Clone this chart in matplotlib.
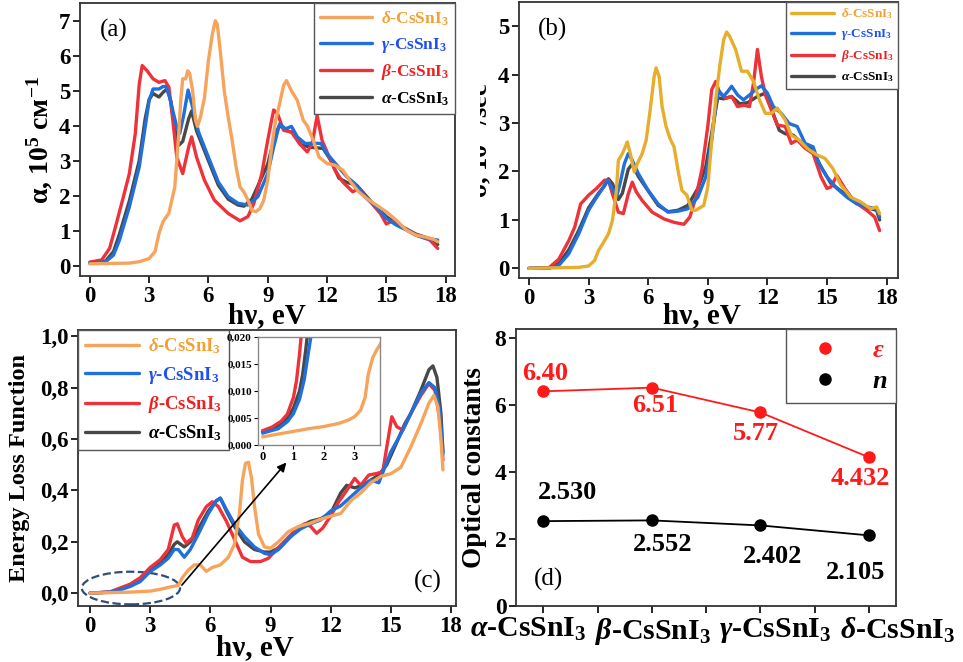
import numpy as np
import matplotlib
matplotlib.use('Agg')
import matplotlib.pyplot as plt
from matplotlib.patches import Ellipse
from matplotlib.transforms import Bbox, TransformedBbox, ScaledTranslation

plt.rcParams['font.family'] = ['Liberation Serif', 'DejaVu Serif']
plt.rcParams['font.weight'] = 'bold'
plt.rcParams['axes.labelweight'] = 'bold'
plt.rcParams['mathtext.fontset'] = 'custom'
plt.rcParams['mathtext.rm'] = 'Liberation Serif:bold'
plt.rcParams['mathtext.it'] = 'Liberation Serif:italic:bold'
plt.rcParams['mathtext.bf'] = 'Liberation Serif:bold'

# ---- (a) absorption coefficient, 10^5 cm^-1 ----
a_delta_x = [0, 2, 2.5, 3, 3.3, 3.5, 3.7, 4.0, 4.3, 4.5, 4.6, 4.7, 4.85, 4.95, 5.05, 5.2, 5.35, 5.45, 5.6, 5.8,
             6.0, 6.2, 6.35, 6.45, 6.6, 6.8, 7.0, 7.2, 7.4, 7.6, 7.8, 8.0, 8.2, 8.4, 8.6, 8.8, 9.0, 9.2, 9.4,
             9.6, 9.8, 9.95, 10.2, 10.5, 10.8, 11.0, 11.3, 11.6, 12.0, 12.4, 12.8, 13.2, 13.6, 14.0, 14.5,
             15.0, 15.5, 16.0, 16.5, 17.0, 17.4, 17.6]
a_delta_y = [0.05, 0.07, 0.11, 0.2, 0.4, 0.92, 1.25, 1.5, 2.25, 3.77, 4.72, 5.34, 5.34, 5.57, 5.5, 5.0, 4.15,
             3.98, 4.25, 4.8, 5.86, 6.62, 7.0, 6.9, 6.14, 5.0, 4.25, 3.58, 2.82, 2.25, 2.1, 1.87, 1.58, 1.54,
             1.63, 1.87, 2.44, 3.39, 4.15, 4.62, 5.15, 5.29, 5.0, 4.72, 4.15, 4.0, 3.58, 3.1, 2.92, 2.87, 2.73,
             2.39, 2.11, 1.92, 1.73, 1.54, 1.3, 1.02, 0.87, 0.81, 0.75, 0.68]
a_gamma_x = [0, 0.8, 1.2, 1.5, 2.0, 2.5, 2.8, 3.0, 3.2, 3.5, 3.7, 3.85, 4.0, 4.2, 4.4, 4.55, 4.75, 4.97, 5.2,
             5.5, 6.0, 6.5, 7.0, 7.5, 8.0, 8.5, 9.0, 9.3, 9.6, 9.9, 10.2, 10.5, 10.9, 11.3, 11.7, 12.0, 12.5,
             13.0, 13.4, 14.0, 14.5, 15.0, 15.5, 16.0, 16.5, 17.0, 17.6]
a_gamma_y = [0.07, 0.11, 0.3, 0.73, 1.68, 2.82, 3.96, 4.72, 5.05, 5.05, 5.12, 5.12, 4.91, 4.43, 3.96, 3.78,
             4.3, 5.02, 4.53, 3.82, 3.1, 2.39, 1.97, 1.78, 1.73, 1.97, 2.63, 3.39, 4.05, 3.91, 3.98, 3.68,
             3.49, 3.5, 3.49, 3.2, 2.87, 2.54, 2.35, 1.92, 1.68, 1.35, 1.16, 1.02, 0.87, 0.78, 0.73]
a_beta_x = [0, 0.6, 1.0, 1.3, 1.7, 2.0, 2.3, 2.5, 2.65, 2.9, 3.2, 3.5, 3.8, 4.0, 4.2, 4.4, 4.7, 5.0, 5.15,
            5.4, 5.8, 6.3, 7.0, 7.6, 8.0, 8.3, 8.7, 9.0, 9.3, 9.5, 9.8, 10.2, 10.6, 11.0, 11.25, 11.5, 11.75,
            12.0, 12.4, 12.8, 13.3, 13.6, 14.2, 14.7, 15.0, 15.4, 15.8, 16.5, 17.2, 17.6]
a_beta_y = [0.1, 0.16, 0.49, 1.11, 1.97, 2.63, 3.77, 5.19, 5.72, 5.57, 5.34, 5.24, 5.29, 5.1, 4.15, 3.1,
            2.63, 3.39, 3.68, 3.1, 2.44, 1.87, 1.49, 1.28, 1.4, 1.78, 2.63, 3.58, 4.45, 4.34, 3.87, 3.82,
            3.49, 3.25, 3.49, 4.29, 3.58, 3.25, 2.73, 2.39, 2.11, 2.2, 1.82, 1.49, 1.19, 1.3, 1.11, 0.87,
            0.73, 0.49]
a_alpha_x = [0, 0.8, 1.2, 1.5, 2.0, 2.5, 2.8, 3.0, 3.2, 3.5, 3.7, 3.9, 4.1, 4.3, 4.5, 4.7, 5.0, 5.15, 5.4,
             6.0, 6.5, 7.0, 7.5, 7.8, 8.2, 8.6, 9.0, 9.4, 9.6, 10.0, 10.3, 10.7, 11.2, 11.8, 12.2, 12.6,
             13.0, 13.5, 14.2, 15.0, 15.5, 16.5, 17.3, 17.6]
a_alpha_y = [0.07, 0.13, 0.4, 0.9, 1.85, 3.0, 4.2, 4.75, 4.92, 4.82, 4.95, 5.05, 4.7, 3.9, 3.44, 3.55, 4.2,
             4.42, 3.85, 3.0, 2.3, 1.9, 1.73, 1.7, 1.9, 2.4, 2.9, 3.8, 4.0, 3.85, 3.8, 3.45, 3.38, 3.35, 3.0,
             2.5, 2.38, 2.3, 1.85, 1.4, 1.2, 0.9, 0.75, 0.6]

# ---- (b) optical conductivity, 10^15 /sec ----
b_delta_x = [0, 2.5, 3.0, 3.3, 3.5, 3.7, 4.0, 4.2, 4.4, 4.5, 4.7, 4.85, 4.95, 5.1, 5.3, 5.45, 5.7, 5.9, 6.1,
             6.3, 6.4, 6.55, 6.7, 6.9, 7.1, 7.3, 7.5, 7.7, 7.95, 8.2, 8.4, 8.8, 9.0, 9.2, 9.4, 9.6, 9.8, 9.95,
             10.1, 10.4, 10.7, 11.0, 11.3, 11.6, 11.9, 12.2, 12.5, 12.9, 13.2, 13.6, 14.0, 14.5, 14.9, 15.3,
             15.7, 16.2, 16.7, 17.2, 17.5, 17.65]
b_delta_y = [0.0, 0.02, 0.05, 0.16, 0.37, 0.5, 0.71, 0.99, 1.61, 2.23, 2.37, 2.51, 2.61, 2.37, 1.99, 2.16,
             2.37, 2.65, 3.27, 3.96, 4.14, 3.96, 3.34, 2.93, 2.68, 2.51, 2.03, 1.61, 1.51, 1.2, 1.2, 1.3,
             1.68, 2.65, 3.48, 4.17, 4.72, 4.88, 4.79, 4.52, 4.07, 4.07, 3.86, 3.48, 3.2, 3.2, 3.31, 3.06,
             2.75, 2.65, 2.48, 2.34, 2.27, 2.06, 1.72, 1.47, 1.37, 1.23, 1.27, 1.13]
b_gamma_x = [0, 1.0, 1.5, 2.0, 2.5, 3.0, 3.3, 3.7, 3.95, 4.15, 4.4, 4.6, 4.8, 5.0, 5.2, 5.5, 6.0, 6.5, 7.0,
             7.5, 8.0, 8.5, 8.9, 9.2, 9.4, 9.55, 9.8, 10.0, 10.2, 10.5, 10.8, 11.1, 11.4, 11.7, 12.0, 12.3,
             12.7, 13.1, 13.5, 13.9, 14.3, 14.6, 15.0, 15.5, 16.0, 16.5, 17.0, 17.5, 17.65]
b_gamma_y = [0.0, 0.0, 0.06, 0.3, 0.71, 1.2, 1.4, 1.65, 1.82, 1.68, 1.47, 1.78, 2.16, 2.37, 2.23, 1.96, 1.61,
             1.33, 1.16, 1.18, 1.23, 1.47, 1.89, 2.65, 3.34, 3.67, 3.55, 3.65, 3.76, 3.58, 3.48, 3.58, 3.69,
             3.77, 3.62, 3.34, 3.2, 2.99, 2.93, 2.58, 2.51, 2.16, 1.89, 1.65, 1.47, 1.33, 1.27, 1.23, 1.06]
b_beta_x = [0, 1.0, 1.5, 2.0, 2.3, 2.6, 3.0, 3.4, 3.8, 4.0, 4.2, 4.5, 4.75, 5.0, 5.2, 5.4, 5.7, 6.2, 6.8,
            7.3, 7.8, 8.1, 8.4, 8.7, 9.0, 9.2, 9.4, 9.6, 9.9, 10.2, 10.5, 10.8, 11.1, 11.3, 11.5, 11.7, 11.9,
            12.2, 12.5, 12.9, 13.2, 13.5, 13.9, 14.3, 14.7, 15.0, 15.2, 15.5, 15.9, 16.4, 17.0, 17.4, 17.65]
b_beta_y = [0.0, 0.01, 0.19, 0.57, 0.85, 1.33, 1.51, 1.65, 1.82, 1.82, 1.54, 1.16, 1.13, 1.54, 1.78, 1.58,
            1.4, 1.16, 1.02, 0.95, 0.91, 1.06, 1.47, 2.03, 2.93, 3.69, 3.86, 3.62, 3.51, 3.55, 3.34, 3.37,
            3.34, 3.82, 4.52, 3.96, 3.58, 3.27, 2.96, 2.93, 2.58, 2.65, 2.48, 2.37, 1.89, 1.65, 1.68, 1.92,
            1.65, 1.37, 1.2, 1.06, 0.78]
b_alpha_x = [0, 1.0, 1.5, 2.0, 2.5, 3.0, 3.5, 3.8, 4.0, 4.2, 4.5, 4.7, 5.0, 5.2, 5.5, 6.0, 6.5, 7.0, 7.5,
             8.0, 8.5, 8.9, 9.2, 9.5, 9.8, 10.2, 10.6, 11.0, 11.5, 11.9, 12.2, 12.6, 12.9, 13.3, 13.7, 14.2,
             14.7, 15.2, 15.7, 16.3, 17.0, 17.5, 17.65]
b_alpha_y = [0.0, 0.01, 0.1, 0.38, 0.78, 1.25, 1.55, 1.7, 1.85, 1.75, 1.42, 1.55, 2.05, 2.15, 1.9, 1.6, 1.3,
             1.17, 1.2, 1.3, 1.65, 2.1, 2.8, 3.52, 3.5, 3.55, 3.4, 3.42, 3.55, 3.62, 3.3, 2.85, 2.78, 2.75,
             2.6, 2.5, 2.1, 1.75, 1.6, 1.42, 1.25, 1.2, 1.0]

# ---- (c) energy loss function ----
c_delta_x = [0, 1.0, 2.0, 3.0, 3.5, 4.0, 4.4, 4.6, 4.9, 5.2, 5.5, 5.8, 6.1, 6.5, 6.9, 7.2, 7.45, 7.6, 7.75,
             7.9, 8.05, 8.2, 8.4, 8.7, 9.0, 9.4, 9.9, 10.4, 10.9, 11.4, 12.0, 12.5, 13.0, 13.5, 14.0, 14.5,
             15.0, 15.5, 16.0, 16.5, 16.9, 17.15, 17.35, 17.5, 17.6]
c_delta_y = [0.0, 0.002, 0.004, 0.008, 0.015, 0.024, 0.03, 0.06, 0.09, 0.11, 0.11, 0.085, 0.1, 0.11, 0.14,
             0.19, 0.31, 0.44, 0.505, 0.51, 0.45, 0.34, 0.23, 0.18, 0.175, 0.2, 0.24, 0.26, 0.27, 0.285, 0.3,
             0.31, 0.36, 0.39, 0.43, 0.455, 0.465, 0.49, 0.57, 0.66, 0.74, 0.77, 0.725, 0.6, 0.48]
c_gamma_x = [0, 1.0, 1.5, 2.0, 2.5, 3.0, 3.5, 3.9, 4.2, 4.4, 4.7, 5.0, 5.4, 5.9, 6.3, 6.5, 6.8, 7.2, 7.7, 8.2,
             8.7, 9.0, 9.4, 10.0, 10.5, 11.0, 11.5, 12.0, 12.5, 13.0, 13.5, 14.0, 14.4, 14.7, 15.0, 15.5, 16.0,
             16.5, 16.9, 17.2, 17.45, 17.6]
c_gamma_y = [0.0, 0.004, 0.013, 0.026, 0.045, 0.084, 0.11, 0.136, 0.17, 0.17, 0.14, 0.17, 0.23, 0.31, 0.36,
             0.37, 0.325, 0.27, 0.22, 0.18, 0.155, 0.15, 0.17, 0.22, 0.25, 0.27, 0.285, 0.32, 0.34, 0.375,
             0.41, 0.44, 0.43, 0.49, 0.55, 0.62, 0.7, 0.78, 0.82, 0.8, 0.71, 0.54]
c_beta_x = [0, 1.0, 1.5, 2.0, 2.5, 3.0, 3.5, 3.9, 4.2, 4.35, 4.6, 4.8, 5.1, 5.4, 5.8, 6.1, 6.4, 6.8, 7.2, 7.6,
            8.0, 8.5, 8.9, 9.3, 9.8, 10.3, 10.7, 11.0, 11.3, 11.6, 12.0, 12.4, 12.8, 13.2, 13.5, 13.9, 14.3,
            14.6, 14.8, 15.05, 15.3, 15.6, 16.0, 16.5, 16.9, 17.2, 17.45, 17.6]
c_beta_y = [0.0, 0.005, 0.02, 0.035, 0.06, 0.1, 0.13, 0.17, 0.265, 0.27, 0.22, 0.195, 0.215, 0.285, 0.337,
            0.356, 0.337, 0.28, 0.21, 0.14, 0.123, 0.123, 0.136, 0.17, 0.21, 0.25, 0.27, 0.26, 0.233, 0.253,
            0.3, 0.356, 0.4, 0.447, 0.42, 0.46, 0.466, 0.473, 0.57, 0.687, 0.648, 0.635, 0.7, 0.77, 0.816,
            0.79, 0.673, 0.518]
c_alpha_x = [0, 1.0, 1.5, 2.0, 2.5, 3.0, 3.5, 3.9, 4.2, 4.35, 4.7, 5.0, 5.4, 5.9, 6.3, 6.5, 6.8, 7.2, 7.7,
             8.2, 8.7, 9.0, 9.5, 10.0, 10.5, 11.0, 11.5, 12.0, 12.5, 12.8, 13.2, 13.6, 14.0, 14.4, 14.8, 15.2,
             15.7, 16.0, 16.5, 16.9, 17.1, 17.3, 17.5, 17.6]
c_alpha_y = [0.0, 0.004, 0.015, 0.03, 0.05, 0.09, 0.12, 0.15, 0.19, 0.2, 0.18, 0.2, 0.25, 0.32, 0.36, 0.37,
             0.32, 0.26, 0.2, 0.17, 0.16, 0.16, 0.18, 0.22, 0.26, 0.28, 0.29, 0.31, 0.39, 0.42, 0.41, 0.42,
             0.44, 0.46, 0.5, 0.57, 0.66, 0.7, 0.79, 0.87, 0.885, 0.84, 0.7, 0.55]

# ---- (c) inset, low-energy zoom ----
in_delta_x = [0, 0.5, 1.0, 1.5, 2.0, 2.5, 2.8, 3.0, 3.2, 3.35, 3.45, 3.6, 3.75, 3.85]
in_delta_y = [0.0015, 0.002, 0.0025, 0.003, 0.0034, 0.004, 0.0046, 0.0052, 0.0064, 0.0088, 0.013, 0.0162,
              0.0178, 0.0187]
in_gamma_x = [0, 0.5, 0.8, 1.0, 1.2, 1.35, 1.5, 1.57]
in_gamma_y = [0.0022, 0.003, 0.0043, 0.0058, 0.0085, 0.012, 0.0175, 0.02]
in_beta_x = [0, 0.3, 0.6, 0.8, 1.0, 1.1, 1.2, 1.25]
in_beta_y = [0.00265, 0.0033, 0.0044, 0.0057, 0.0088, 0.0119, 0.0169, 0.02]
in_alpha_x = [0, 0.5, 0.8, 1.0, 1.2, 1.3, 1.4, 1.45]
in_alpha_y = [0.0024, 0.0035, 0.005, 0.0068, 0.010, 0.013, 0.0175, 0.02]

# ---- (d) optical constants ----
phases = [r'$\alpha$-CsSnI$_3$', r'$\beta$-CsSnI$_3$', r'$\gamma$-CsSnI$_3$', r'$\delta$-CsSnI$_3$']
eps_vals = [6.40, 6.51, 5.77, 4.432]
eps_text = ['6.40', '6.51', '5.77', '4.432']
n_vals = [2.530, 2.552, 2.402, 2.105]
n_text = ['2.530', '2.552', '2.402', '2.105']

labels = [r'$\delta$-CsSnI$_3$', r'$\gamma$-CsSnI$_3$', r'$\beta$-CsSnI$_3$', r'$\alpha$-CsSnI$_3$']
col_delta, col_delta_b = '#f6a45c', '#e6ae2c'
col_gamma, col_beta, col_alpha = '#1f6fdc', '#ee3239', '#484848'
text_cols = ['#f5a033', '#2050f0', '#f02020', 'black']
LW = 2.4


def style(ax, size=16.5):
    ax.tick_params(direction='out', length=5, width=1.2, labelsize=size, top=False, right=False, pad=2)
    ax.patch.set_visible(False)
    for s in ax.spines.values():
        s.set_linewidth(1.3)
        s.set_color('#333333')


def spectra(ax, data, cdelta):
    order = [('a', col_alpha), ('b', col_beta), ('g', col_gamma), ('d', cdelta)]
    lines = {}
    for key, c in order:
        x, y = data[key]
        lines[key], = ax.plot(x, y, color=c, lw=LW, solid_capstyle='round')
    return [lines['d'], lines['g'], lines['b'], lines['a']]


def legend(ax, handles, loc, fs, hl):
    leg = ax.legend(handles, labels, loc=loc, fontsize=fs, handlelength=hl, borderaxespad=0,
                    fancybox=False, framealpha=1, edgecolor='#555555', labelspacing=0.45,
                    handletextpad=0.5, borderpad=0.35)
    leg.get_frame().set_linewidth(1.0)
    for t, c in zip(leg.get_texts(), text_cols):
        t.set_color(c)
    return leg


fig = plt.figure(figsize=(9.63, 6.62), dpi=100)

# (a)
ax_a = fig.add_axes([0.083, 0.583, 0.390, 0.412])
h = spectra(ax_a, {'d': (a_delta_x, a_delta_y), 'g': (a_gamma_x, a_gamma_y),
                   'b': (a_beta_x, a_beta_y), 'a': (a_alpha_x, a_alpha_y)}, col_delta)
legend(ax_a, h, 'upper right', 12.5, 3.0)
ax_a.set_xlim(-0.5, 18.5)
ax_a.set_ylim(-0.3, 7.5)
ax_a.set_xticks(range(0, 19, 3))
ax_a.set_yticks(range(0, 8))
style(ax_a)
ax_a.set_xlabel('hν, eV', fontsize=21)
ax_a.xaxis.set_label_coords(0.497, -0.094)
ax_a.set_ylabel(r'α, 10$^5$ см$^{-1}$', fontsize=20)
ax_a.yaxis.set_label_coords(-0.066, 0.5)
ax_a.text(0.09, 0.9, '(a)', transform=ax_a.transAxes, fontsize=18, fontweight='normal', ha='center', va='center')

# (b)
ax_b = fig.add_axes([0.539, 0.580, 0.394, 0.417])
h = spectra(ax_b, {'d': (b_delta_x, b_delta_y), 'g': (b_gamma_x, b_gamma_y),
                   'b': (b_beta_x, b_beta_y), 'a': (b_alpha_x, b_alpha_y)}, col_delta_b)
legend(ax_b, h, 'upper right', 9.5, 3.3)
ax_b.set_xlim(-0.5, 18.6)
ax_b.set_ylim(-0.2, 5.5)
ax_b.set_xticks(range(0, 19, 3))
ax_b.set_yticks(range(0, 6))
style(ax_b)
ax_b.set_xlabel('hν, eV', fontsize=21)
ax_b.xaxis.set_label_coords(0.483, -0.088)
ax_b.set_ylabel(r'σ, 10$^{15}$/sec', fontsize=19)
ax_b.yaxis.set_label_coords(-0.066, 0.5)
# the original crop cuts this label at the panel boundary
lbl = ax_b.yaxis.label
lbl.set_clip_box(TransformedBbox(Bbox([[480 / 963, 0], [1, 1]]), fig.transFigure))
lbl.set_clip_on(True)
ax_b.text(0.087, 0.9, '(b)', transform=ax_b.transAxes, fontsize=18, fontweight='normal', ha='center', va='center')

# (c)
ax_c = fig.add_axes([0.081, 0.0846, 0.3925, 0.417])
h = spectra(ax_c, {'d': (c_delta_x, c_delta_y), 'g': (c_gamma_x, c_gamma_y),
                   'b': (c_beta_x, c_beta_y), 'a': (c_alpha_x, c_alpha_y)}, col_delta)
legend(ax_c, h, 'upper left', 13.5, 2.9)
ax_c.set_xlim(-0.6, 18.25)
ax_c.set_ylim(-0.05, 1.025)
ax_c.set_xticks(range(0, 19, 3))
c_yticks = [0.0, 0.2, 0.4, 0.6, 0.8, 1.0]
ax_c.set_yticks(c_yticks)
ax_c.set_yticklabels([f'{v:.1f}'.replace('.', ',') for v in c_yticks])
style(ax_c)
ax_c.set_xlabel('hν, eV', fontsize=21)
ax_c.xaxis.set_label_coords(0.468, -0.1)
ax_c.set_ylabel('Energy Loss Function', fontsize=17.5)
ax_c.yaxis.set_label_coords(-0.127, 0.5)
ax_c.text(0.925, 0.09, '(c)', transform=ax_c.transAxes, fontsize=18, fontweight='normal', ha='center', va='center')
ax_c.add_patch(Ellipse((2.04, 0.02), 4.9, 0.127, fill=False, ls='--', lw=1.6, color='#2f4d78'))
ax_c.annotate('', xy=(9.88, 0.517), xytext=(4.49, 0.023),
              arrowprops=dict(arrowstyle='-|>', color='k', lw=1.2, mutation_scale=13))

# inset
ax_in = fig.add_axes([0.268, 0.328, 0.127, 0.163])
ax_in.plot(in_alpha_x, in_alpha_y, color=col_alpha, lw=LW)
ax_in.plot(in_beta_x, in_beta_y, color=col_beta, lw=LW)
ax_in.plot(in_gamma_x, in_gamma_y, color=col_gamma, lw=LW)
ax_in.plot(in_delta_x, in_delta_y, color=col_delta, lw=LW)
ax_in.set_xlim(-0.16, 3.85)
ax_in.set_ylim(0, 0.02)
ax_in.set_xticks([0, 1, 2, 3])
in_yticks = [0.0, 0.005, 0.010, 0.015, 0.020]
ax_in.set_yticks(in_yticks)
ax_in.set_yticklabels([f'{v:.3f}'.replace('.', ',') for v in in_yticks])
ax_in.tick_params(direction='out', length=3, width=0.8, labelsize=8, pad=1.5)
ax_in.tick_params(axis='x', labelsize=9)
for s in ax_in.spines.values():
    s.set_color('#888888')
    s.set_linewidth(1.0)

# (d)
ax_d = fig.add_axes([0.536, 0.0846, 0.3946, 0.418])
xs = np.arange(len(phases))
ax_d.plot(xs, eps_vals, color='#ff1a1a', lw=1.3)
ax_d.plot(xs, n_vals, color='black', lw=1.3)
pe, = ax_d.plot(xs, eps_vals, 'o', color='#ff1a1a', ms=8, label=r'$\varepsilon$')
pn, = ax_d.plot(xs, n_vals, 'o', color='black', ms=8, label=r'$n$')
eps_off = [(0.02, 0.53), (0.03, -0.53), (-0.04, -0.62), (-0.08, -0.62)]
n_off = [(0.22, 0.86), (0.10, -0.73), (0.11, -0.94), (-0.12, -1.12)]
for i in range(len(phases)):
    ax_d.text(xs[i] + eps_off[i][0], eps_vals[i] + eps_off[i][1], eps_text[i], color='#ff1a1a',
              fontsize=19, ha='center', va='center')
    ax_d.text(xs[i] + n_off[i][0], n_vals[i] + n_off[i][1], n_text[i], color='black',
              fontsize=19, ha='center', va='center')
leg = ax_d.legend(handles=[pe, pn], loc='upper right', fontsize=19, borderaxespad=0, fancybox=False,
                  framealpha=1, edgecolor='#555555', handlelength=2.3, handletextpad=0.6,
                  labelspacing=0.3, borderpad=0.35)
leg.get_frame().set_linewidth(1.0)
leg.get_texts()[0].set_color('#ff1a1a')
ax_d.set_xlim(-0.25, 3.25)
ax_d.set_ylim(0, 8.25)
ax_d.set_xticks(xs)
ax_d.set_xticks(xs[:-1] + 0.5, minor=True)
ax_d.set_xticklabels(phases)
ax_d.set_yticks(range(0, 9, 2))
style(ax_d, 17)
ax_d.tick_params(axis='x', labelsize=21.5, pad=2)
ax_d.tick_params(axis='x', which='minor', direction='out', length=5, width=1.2)
# category labels in the original sit slightly off their ticks
shifts_px = [-15, 1, 15, 29]
for t, dx in zip(ax_d.get_xticklabels(), shifts_px):
    t.set_transform(t.get_transform() + ScaledTranslation(dx / 100, 0, fig.dpi_scale_trans))
ax_d.set_ylabel('Optical constants', fontsize=19.5)
ax_d.yaxis.set_label_coords(-0.076, 0.5)
ax_d.text(0.085, 0.095, '(d)', transform=ax_d.transAxes, fontsize=18, fontweight='normal', ha='center', va='center')

fig.savefig('out.png', dpi=100)
